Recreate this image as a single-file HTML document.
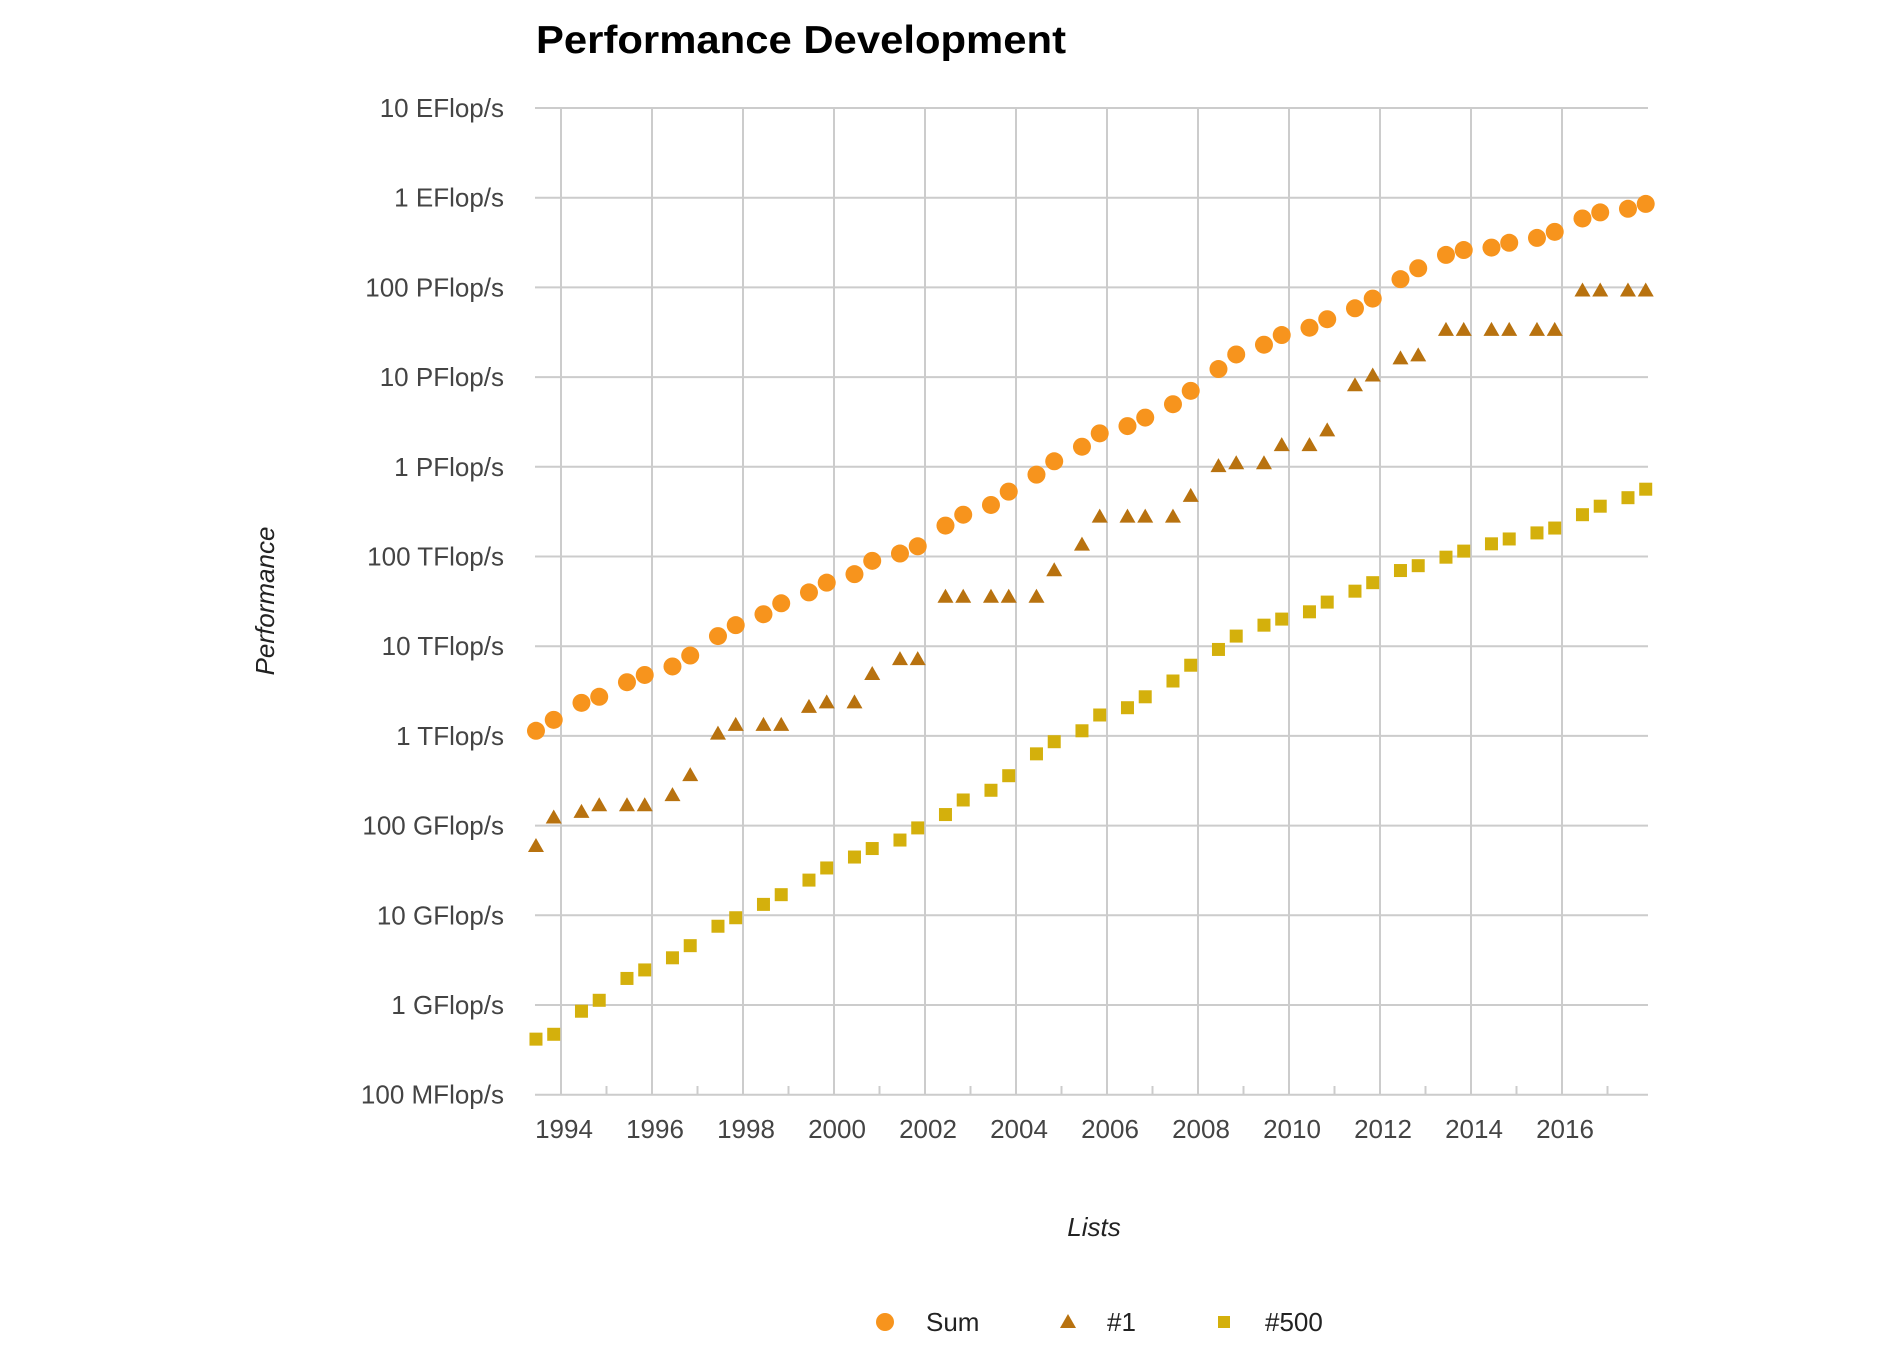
<!DOCTYPE html>
<html><head><meta charset="utf-8"><style>
html,body{margin:0;padding:0;background:#fff;}
svg{display:block;font-family:"Liberation Sans",sans-serif;}
</style></head><body>
<svg id="c" width="1902" height="1350" viewBox="0 0 1902 1350" xmlns="http://www.w3.org/2000/svg">
<rect width="1902" height="1350" fill="#fff"/>
<text x="536" y="53" font-size="39" font-weight="bold" fill="#000" textLength="530" lengthAdjust="spacingAndGlyphs">Performance Development</text>
<g id="grid" stroke="#cccccc" stroke-width="2"></g>
<g id="ylab" font-size="26" fill="#444" text-anchor="end"></g>
<g id="xlab" font-size="26" fill="#444" text-anchor="middle"></g>
<text x="1094" y="1236" font-size="26" font-style="italic" fill="#222" text-anchor="middle">Lists</text>
<text transform="translate(274,601) rotate(-90)" font-size="26" font-style="italic" fill="#222" text-anchor="middle">Performance</text>
<g id="pts"></g>
<circle cx="885" cy="1322" r="9" fill="#F7941D"/>
<text x="926" y="1331" font-size="26" fill="#222">Sum</text>
<polygon points="1068,1314 1076,1328 1060,1328" fill="#B8720F"/>
<text x="1107" y="1331" font-size="26" fill="#222">#1</text>
<rect x="1218" y="1316" width="12" height="12" fill="#D4B00C"/>
<text x="1265" y="1331" font-size="26" fill="#222">#500</text>
</svg>
<script>
var NS="http://www.w3.org/2000/svg";
function el(p,t,a,txt){var e=document.createElementNS(NS,t);for(var k in a)e.setAttribute(k,a[k]);if(txt)e.textContent=txt;document.getElementById(p).appendChild(e);return e;}
var L=535,R=1648,T=108,B=1095,D=89.7;
var labs=["10 EFlop/s","1 EFlop/s","100 PFlop/s","10 PFlop/s","1 PFlop/s","100 TFlop/s","10 TFlop/s","1 TFlop/s","100 GFlop/s","10 GFlop/s","1 GFlop/s","100 MFlop/s"];
for(var i=0;i<12;i++){var y=T+i*D;el("grid","line",{x1:L,x2:R,y1:y,y2:y});el("ylab","text",{x:504,y:y+9},labs[i]);}
function X(yr){return 561+(yr-1994)*45.5;}
for(var yr=1994;yr<=2016;yr+=2){var x=X(yr);el("grid","line",{x1:x,x2:x,y1:T,y2:B});el("xlab","text",{x:x+3,y:1138},String(yr));}
for(var yr=1995;yr<=2017;yr+=2){var x=X(yr);el("grid","line",{x1:x,x2:x,y1:B-9,y2:B});}
function px(i){var yr=1993+Math.floor(i/2);return X(yr+(i%2?0.84:0.45));}
function yd(d){return T+(d-90)*1.214;}
var sum=[603,594,580,575,563,557,550,541,525,516,507,498,489,481,474,463,457,451,434,425,417,406,392,381,369,358,352,345,334,323,305,293,285,277,271,264,255,247,231,222,211,207,205,201,197,192,181,176,173,169];
var p5=[857,853,834,825,807,800,790,780,764,757,746,738,726,716,707,700,693,683,672,660,652,640,622,612,603,590,584,575,562,549,536,525,516,511,505,497,488,481,471,467,460,455,449,445,440,436,425,418,411,404];
var n1=[59.7e9,124e9,143.4e9,170e9,170e9,170e9,220.4e9,368.2e9,1.068e12,1.338e12,1.338e12,1.338e12,2.121e12,2.379e12,2.379e12,4.938e12,7.226e12,7.226e12,35.86e12,35.86e12,35.86e12,35.86e12,35.86e12,70.72e12,136.8e12,280.6e12,280.6e12,280.6e12,280.6e12,478.2e12,1.026e15,1.105e15,1.105e15,1.759e15,1.759e15,2.566e15,8.162e15,10.51e15,16.32e15,17.59e15,33.86e15,33.86e15,33.86e15,33.86e15,33.86e15,33.86e15,93.01e15,93.01e15,93.01e15,93.01e15];
for(var i=0;i<50;i++){
var x=px(i);
var y=yd(p5[i]);el("pts","rect",{x:x-6.5,y:y-6.5,width:13,height:13,fill:"#D4B00C"});
y=B-(Math.log10(n1[i])-8)*D;el("pts","polygon",{points:(x)+","+(y-8)+" "+(x+8)+","+(y+6)+" "+(x-8)+","+(y+6),fill:"#B8720F"});
y=yd(sum[i]);el("pts","circle",{cx:x,cy:y,r:9,fill:"#F7941D"});
}
</script>
</body></html>
